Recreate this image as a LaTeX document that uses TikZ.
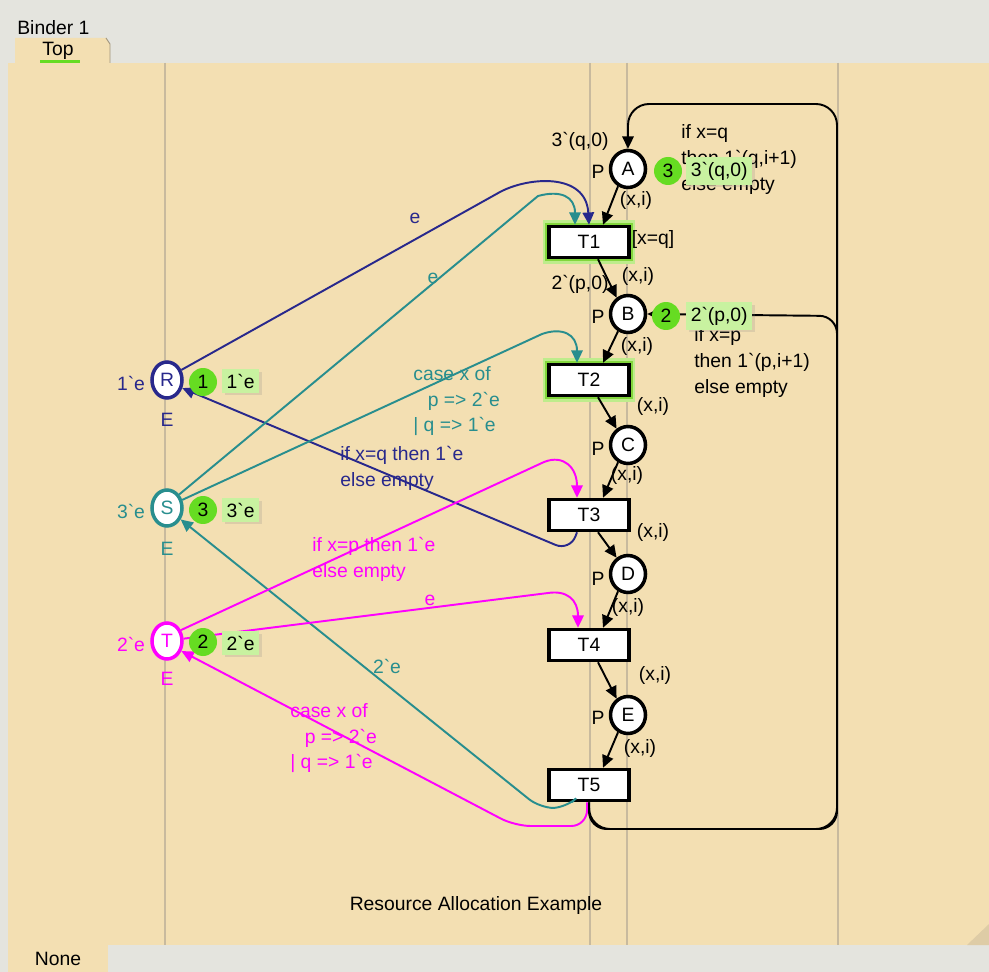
\documentclass[tikz,border=0pt]{standalone}
\usepackage{fontspec}
\setmainfont{Liberation Sans}
\usetikzlibrary{arrows.meta,shapes.geometric,calc,shadows}

\definecolor{paper}{RGB}{243,223,178}
\definecolor{chrome}{RGB}{228,228,222}
\definecolor{guide}{RGB}{200,186,158}
\definecolor{fold}{RGB}{222,204,166}
\definecolor{navy}{RGB}{40,40,140}
\definecolor{teal}{RGB}{40,142,142}
\definecolor{pink}{RGB}{255,0,255}
\definecolor{tokgreen}{RGB}{102,220,34}
\definecolor{boxgreen}{RGB}{200,242,160}
\definecolor{glowlight}{RGB}{190,236,140}
\definecolor{glowmid}{RGB}{130,214,60}

\newcommand{\bq}{\textasciigrave}

\begin{document}
\begin{tikzpicture}[x=0.02cm,y=-0.02cm,
  font=\fontsize{11}{14.7}\selectfont,
  place/.style={ellipse, draw=black, line width=2pt, fill=white,
    minimum width=0.7cm, minimum height=0.74cm, inner sep=0pt},
  resplace/.style={ellipse, line width=2pt, fill=white,
    minimum width=0.6cm, minimum height=0.72cm, inner sep=0pt},
  trans/.style={rectangle, draw=black, line width=2pt, fill=white,
    minimum width=1.6cm, minimum height=0.62cm, inner sep=0pt},
  enabled/.style={preaction={draw=glowlight, line width=7pt},
    preaction={draw=glowmid, line width=4.5pt}},
  token/.style={circle, fill=tokgreen, minimum size=0.56cm, inner sep=0pt},
  tokbox/.style={fill=boxgreen, inner sep=2.5pt, anchor=west,
    drop shadow={shadow xshift=1.5pt, shadow yshift=-1.5pt, opacity=0.2}},
  arc/.style={line width=1.1pt, -{Triangle[length=7pt,width=6.5pt]}},
  lbl/.style={inner sep=0pt},
  multi/.style={inner sep=0pt, align=left, anchor=north west},
  guideline/.style={draw=guide, line width=0.6pt}
]
\useasboundingbox (0,0) rectangle (989,972);

% window chrome and sheet
\fill[chrome] (0,0) rectangle (989,972);
\fill[paper] (8,63) rectangle (989,945);
\fill[paper] (15,63) -- (15,38) -- (106,38) -- (110,44) -- (110,63) -- cycle;
\draw[guide!80!black, line width=0.5pt] (106,38) -- (110,44) -- (110,63);
\fill[paper] (8,945) rectangle (108,972);
\fill[fold] (989,924) -- (989,945) -- (967,945) -- cycle;
\node[lbl, anchor=west] (binder) at (17,28) {Binder 1};
\node[lbl] (toptab) at (58,51) {Top};
\draw[tokgreen, line width=1.6pt] (40,61.5) -- (80,61.5);
\node[lbl] (nonetab) at (58,959) {None};

% page guides
\foreach \gx in {165,590,627,838}
  \draw[guideline] (\gx,63) -- (\gx,945);

% places of the process
\node[place] (A) at (628,169) {A};
\node[place] (B) at (628,314) {B};
\node[place] (C) at (628,445) {C};
\node[place] (D) at (628,574) {D};
\node[place] (E) at (628,715) {E};
\foreach \p/\py in {A/172,B/317,C/449,D/579,E/718}
  \node[lbl] (P\p) at (598,\py) {P};

% resource places
\node[resplace, draw=navy, text=navy] (R) at (167,380) {R};
\node[resplace, draw=teal, text=teal] (S) at (167,508) {S};
\node[resplace, draw=pink, text=pink] (T) at (167,641) {T};
\node[lbl, text=navy] (Rinit) at (131,383) {1\bq e};
\node[lbl, text=navy] (Rtype) at (167,420) {E};
\node[lbl, text=teal] (Sinit) at (131,511) {3\bq e};
\node[lbl, text=teal] (Stype) at (167,549) {E};
\node[lbl, text=pink] (Tinit) at (131,644) {2\bq e};
\node[lbl, text=pink] (Ttype) at (167,679) {E};

% transitions
\node[trans, enabled] (T1) at (589,242) {T1};
\node[trans, enabled] (T2) at (589,380) {T2};
\node[trans] (T3) at (589,515) {T3};
\node[trans] (T4) at (589,645) {T4};
\node[trans] (T5) at (589,785) {T5};
\node[lbl] (guard) at (653,240) {[x=q]};

% the main chain of the process
\draw[arc] (A.240) -- ($(T1.north)+(14,0)$);
\draw[arc] ($(T1.south)+(9,0)$) -- (B.125);
\draw[arc] (B.240) -- ($(T2.north)+(14,0)$);
\draw[arc] ($(T2.south)+(9,0)$) -- (C.125);
\draw[arc] (C.240) -- ($(T3.north)+(14,0)$);
\draw[arc] ($(T3.south)+(9,0)$) -- (D.125);
\draw[arc] (D.240) -- ($(T4.north)+(14,0)$);
\draw[arc] ($(T4.south)+(9,0)$) -- (E.125);
\draw[arc] (E.240) -- ($(T5.north)+(14,0)$);
\foreach \n/\lx/\ly in {xa/636/201,xb/638/277,xc/637/347,xd/653/406,
    xe/627/475,xf/653/532,xg/628/607,xh/655/675,xi/640/748}
  \node[lbl] (\n) at (\lx,\ly) {(x,i)};
\node[lbl] (Ainit) at (580,141) {3\bq(q,0)};
\node[lbl] (Binit) at (580,284) {2\bq(p,0)};

% loop back from T5 to A and to B
\draw[arc, rounded corners=12pt] (T5.south) -- (589,829) -- (837,829)
  -- (837,104) -- (628,104) -- (A.north);
\draw[arc, rounded corners=10pt] (T5.south) -- (589,829) -- (837,829)
  -- (837,316) -- (B.east);
\node[multi] (loopA) at (681,124) {if x=q\\then 1\bq(q,i+1)\\else empty};
\node[multi] (loopB) at (694,327) {if x=p\\then 1\bq(p,i+1)\\else empty};

% resource R
\draw[arc, navy] (R.35) -- (500,192) .. controls (528,177) and (586,172) .. (T1.north);
\node[lbl, text=navy] (eR) at (415,218) {e};
\draw[arc, navy, rounded corners=9pt] ($(T3.south)+(-12,0)$) -- (570,551) -- (R.-28);
\node[multi, text=navy] (gR) at (340,446) {if x=q then 1\bq e\\else empty};

% resource S
\draw[arc, teal] (S.48) -- (538,196) .. controls (560,190) and (575,196) .. ($(T1.north)+(-14,0)$);
\node[lbl, text=teal] (eS) at (433,278) {e};
\draw[arc, teal] (S.28) -- (542,334) .. controls (562,327) and (577,334) .. ($(T2.north)+(-12,0)$);
\node[multi, text=teal] (cS) at (413,366) {case x of\\\hspace*{0.75em}p => 2\bq e\\| q => 1\bq e};
\draw[arc, teal, rounded corners=8pt] ($(T5.south)+(-17,0)$) -- (566,808) -- (540,808) -- (S.-40);
\node[lbl, text=teal] (eS2) at (387,666) {2\bq e};

% resource T
\draw[arc, pink] (T.38) -- (544,462) .. controls (564,454) and (577,468) .. ($(T3.north)+(-12,0)$);
\node[multi, text=pink] (gT) at (312,537) {if x=p then 1\bq e\\else empty};
\draw[arc, pink] (T.8) -- (548,593) .. controls (567,590) and (578,600) .. ($(T4.north)+(-11,0)$);
\node[lbl, text=pink] (eT) at (430,600) {e};
\draw[arc, pink, rounded corners=9pt] ($(T5.south)+(-2,0)$) -- (587,826) -- (515,826) -- (T.-35);
\node[multi, text=pink] (cT) at (290,703) {case x of\\\hspace*{0.75em}p => 2\bq e\\| q => 1\bq e};

% current markings
\node[token] (kA) at (668,171) {3};
\node[tokbox] (mA) at (686,171) {3\bq(q,0)};
\node[token] (kB) at (666,316) {2};
\node[tokbox] (mB) at (686,316) {2\bq(p,0)};
\node[token] (kR) at (203,382) {1};
\node[tokbox] (mR) at (222,381) {1\bq e};
\node[token] (kS) at (203,510) {3};
\node[tokbox] (mS) at (222,510) {3\bq e};
\node[token] (kT) at (203,642) {2};
\node[tokbox] (mT) at (222,643) {2\bq e};

% page title
\node[lbl] (title) at (476,905) {Resource Allocation Example};
\end{tikzpicture}
\end{document}
